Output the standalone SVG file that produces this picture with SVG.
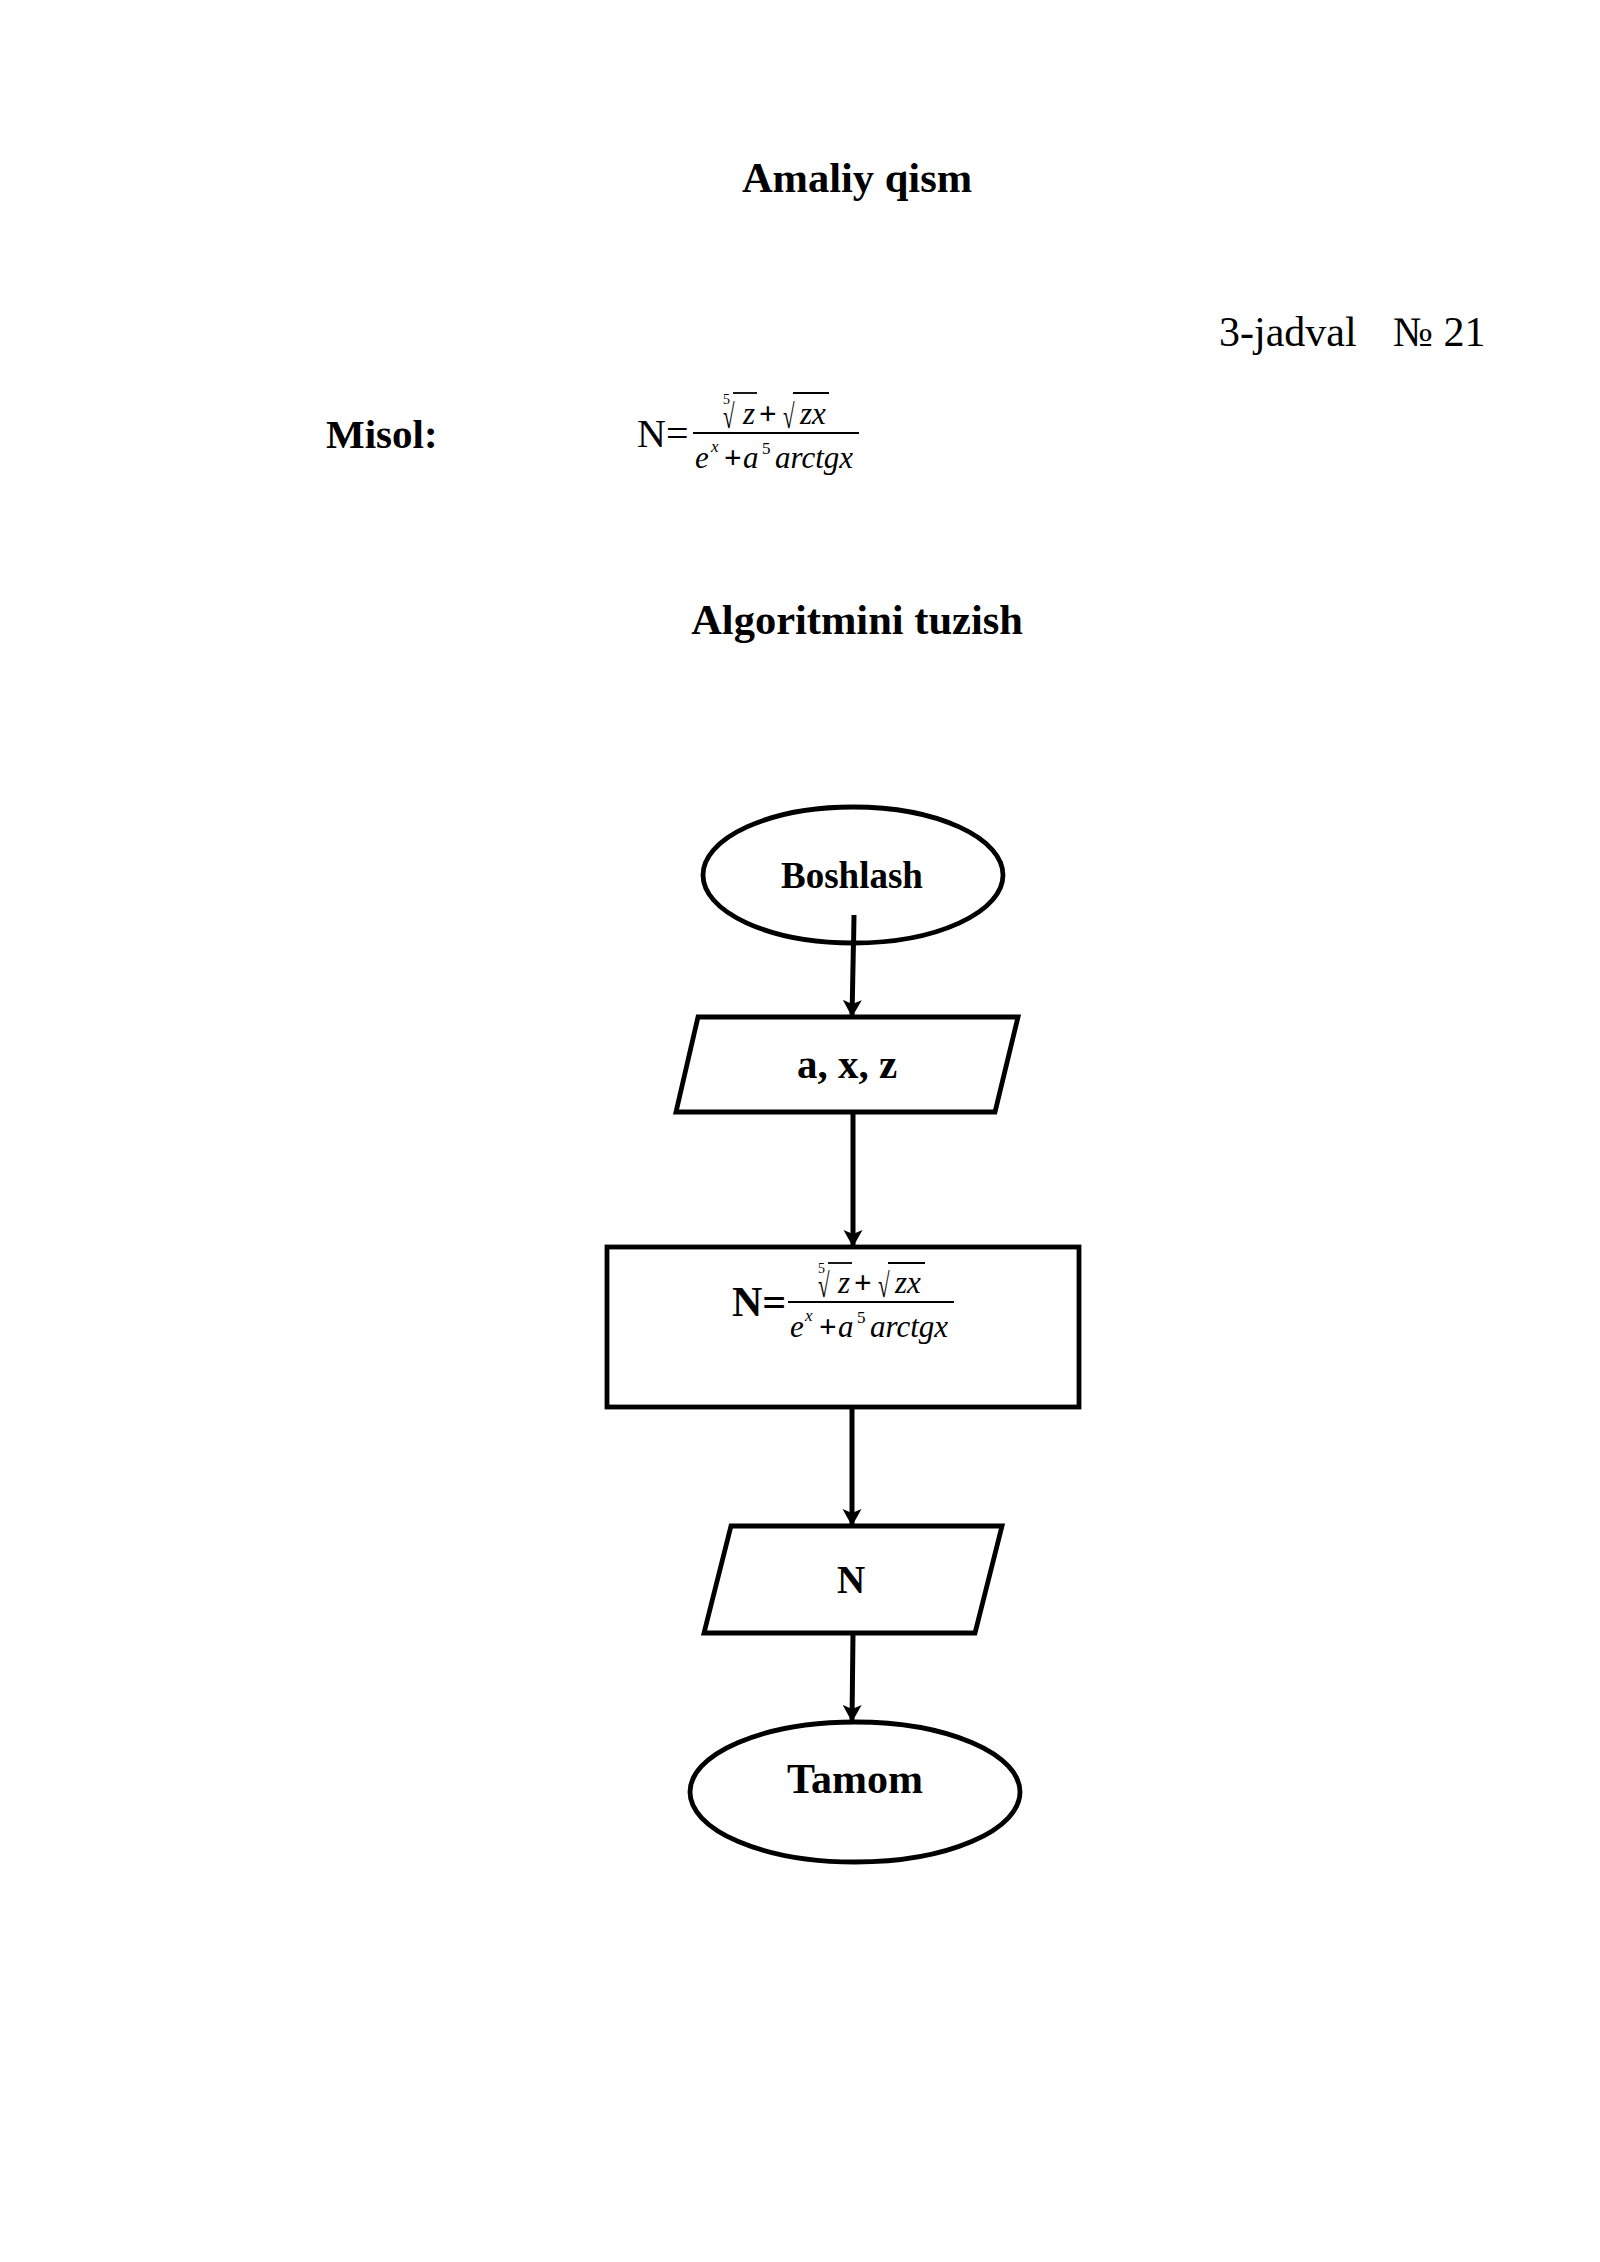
<svg xmlns="http://www.w3.org/2000/svg" width="1600" height="2262" viewBox="0 0 1600 2262">
<style>
  .serif { font-family: "Liberation Serif", "Times New Roman", serif; fill: #000; }
  .b { font-weight: bold; }
  .it { font-style: italic; }
  .shape { fill: #fff; stroke: #000; stroke-width: 4.8; }
  .conn { stroke: #000; stroke-width: 5; fill: none; marker-end: url(#arrow); }
  .rule { stroke: #000; stroke-width: 1.8; }
</style>
<defs>
  <marker id="arrow" markerUnits="userSpaceOnUse" markerWidth="20" markerHeight="22" refX="17" refY="10" orient="auto">
    <path d="M0,0.5 L17,10 L0,19.5 L4,10 Z" fill="#000"/>
  </marker>
</defs>
<rect width="1600" height="2262" fill="#fff"/>

<g id="headings" class="serif">
  <text x="857" y="192" font-size="42.5" class="serif b" text-anchor="middle">Amaliy qism</text>
  <text y="346" font-size="42" class="serif"><tspan x="1219">3-jadval</tspan><tspan x="1393">№ 21</tspan></text>
  <text x="326" y="448" font-size="41" class="serif b">Misol:</text>
  <text x="857" y="634" font-size="42.5" class="serif b" text-anchor="middle">Algoritmini tuzish</text>
</g>

<g id="misol-formula" class="serif">
  <text x="637" y="447" font-size="40" class="serif">N=</text>
  <g transform="translate(693,433)">
    <text x="30" y="-29" font-size="14" class="serif">5</text>
    <text x="0" y="0" font-size="34" class="serif" transform="translate(30,-5) scale(0.62,1)">√</text>
    <line x1="40" y1="-40" x2="64" y2="-40" class="rule"/>
    <text x="50" y="-9" font-size="31" class="serif it">z</text>
    <text x="66" y="-9" font-size="31" class="serif b">+</text>
    <text x="0" y="0" font-size="34" class="serif" transform="translate(90,-5) scale(0.62,1)">√</text>
    <line x1="100" y1="-40" x2="136" y2="-40" class="rule"/>
    <text x="107" y="-9" font-size="31" class="serif it">zx</text>
    <line x1="0" y1="0" x2="166" y2="0" class="rule"/>
    <text x="2" y="35" font-size="31" class="serif it">e</text>
    <text x="18" y="19" font-size="17" class="serif it">x</text>
    <text x="31" y="35" font-size="31" class="serif b">+</text>
    <text x="50" y="35" font-size="31" class="serif it">a</text>
    <text x="69" y="21" font-size="17" class="serif">5</text>
    <text x="82" y="35" font-size="31" class="serif it">arctgx</text>
  </g>
</g>

<g id="connectors">
  <line x1="854" y1="915" x2="852" y2="1017" class="conn"/>
  <line x1="853" y1="1112" x2="853" y2="1247" class="conn"/>
  <line x1="852" y1="1407" x2="852" y2="1526" class="conn"/>
  <line x1="853" y1="1633" x2="852" y2="1722" class="conn"/>
</g>

<g id="start">
  <ellipse cx="853" cy="875" rx="150" ry="68" class="shape"/>
  <text x="852" y="888" font-size="37" class="serif b" text-anchor="middle">Boshlash</text>
  <line x1="854" y1="915" x2="853.6" y2="941" stroke="#000" stroke-width="5"/>
</g>

<g id="input">
  <polygon points="698,1017 1018,1017 995,1112 676,1112" class="shape"/>
  <text x="847" y="1078" font-size="41" class="serif b" text-anchor="middle">a, x, z</text>
</g>

<g id="process">
  <rect x="607" y="1247" width="472" height="160" class="shape"/>
  <text x="732" y="1316" font-size="42" class="serif b">N=</text>
  <g transform="translate(788,1302)" class="serif">
    <text x="30" y="-29" font-size="14" class="serif">5</text>
    <text x="0" y="0" font-size="34" class="serif" transform="translate(30,-5) scale(0.62,1)">√</text>
    <line x1="40" y1="-39" x2="64" y2="-39" class="rule"/>
    <text x="50" y="-9" font-size="31" class="serif it">z</text>
    <text x="66" y="-9" font-size="31" class="serif b">+</text>
    <text x="0" y="0" font-size="34" class="serif" transform="translate(90,-5) scale(0.62,1)">√</text>
    <line x1="100" y1="-39" x2="137" y2="-39" class="rule"/>
    <text x="107" y="-9" font-size="31" class="serif it">zx</text>
    <line x1="0" y1="0" x2="166" y2="0" class="rule"/>
    <text x="2" y="35" font-size="31" class="serif it">e</text>
    <text x="17" y="19" font-size="17" class="serif it">x</text>
    <text x="31" y="35" font-size="31" class="serif b">+</text>
    <text x="50" y="35" font-size="31" class="serif it">a</text>
    <text x="69" y="21" font-size="17" class="serif">5</text>
    <text x="82" y="35" font-size="31" class="serif it">arctgx</text>
  </g>
</g>

<g id="output">
  <polygon points="731,1526 1002,1526 975,1633 704,1633" class="shape"/>
  <text x="851" y="1593" font-size="39" class="serif b" text-anchor="middle">N</text>
</g>

<g id="end">
  <ellipse cx="855" cy="1792" rx="165" ry="70" class="shape"/>
  <text x="855" y="1793" font-size="42" class="serif b" text-anchor="middle">Tamom</text>
</g>
</svg>
